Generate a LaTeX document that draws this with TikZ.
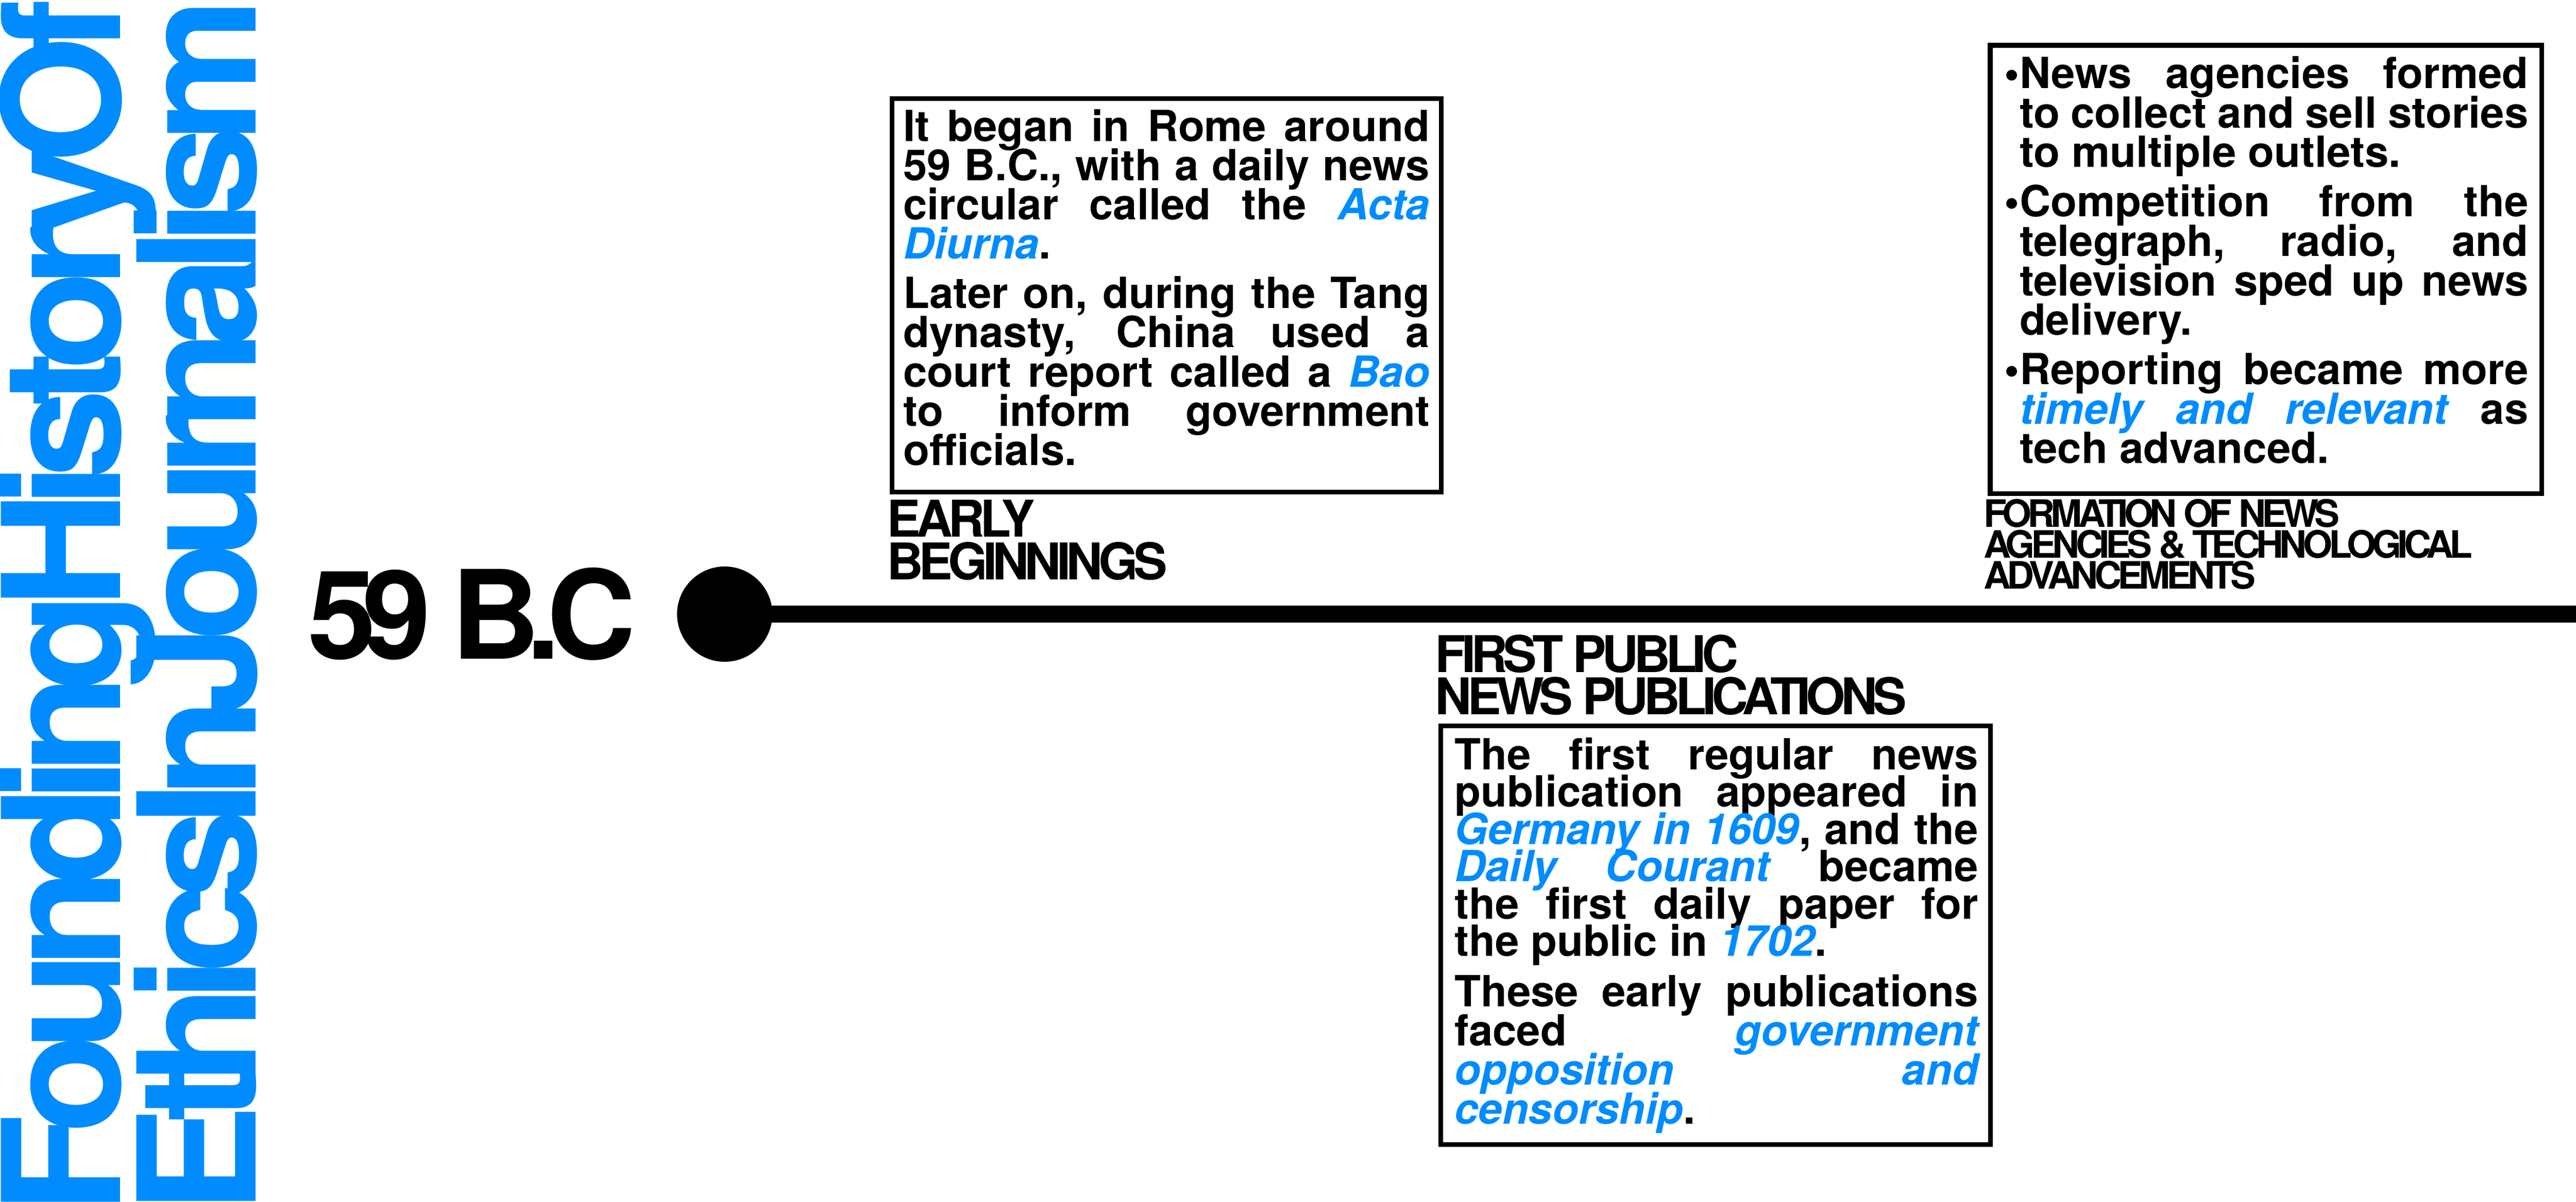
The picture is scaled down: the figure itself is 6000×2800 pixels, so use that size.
\documentclass[tikz,border=0pt]{standalone}
\usepackage{fontspec}
\setmainfont{TeX Gyre Heros}
\newfontfamily\titlefam[LetterSpace=-10.5]{TeX Gyre Heros}
\newfontfamily\datefam[LetterSpace=-11.3]{TeX Gyre Heros}
\newfontfamily\labelfam[LetterSpace=-9]{TeX Gyre Heros}
\newfontfamily\smalllabelfam[LetterSpace=-10.5]{TeX Gyre Heros}
\definecolor{tblue}{RGB}{0,140,255}
\newcommand\bl[1]{{\color{tblue}\itshape #1}}
\newcommand\tightlines{\lineskiplimit=-100pt\lineskip=0pt\relax}
\newcommand\bodyset[2]{\fontsize{10pt}{#1}\selectfont\bfseries\tightlines\parindent=0pt\parskip=#2\tolerance=10000\hbadness=10000\relax}
\newcommand\bul{\leavevmode\llap{•}}
\tikzset{
  infobox/.style={draw=black, line width=1.1pt, inner sep=0pt, fill=none},
  txt/.style={anchor=base west, inner sep=0pt, outer sep=0pt},
  titletxt/.style={txt, rotate=90, text=tblue, font=\titlefam\bfseries\fontsize{38.1pt}{38pt}\selectfont},
  timeline/.style={line width=4pt, draw=black},
}
\begin{document}
\begin{tikzpicture}[x=0.1pt, y=-0.1pt]
\useasboundingbox (0,0) rectangle (6000,2800);
% vertical title
\node[titletxt] (title1) at (280,2829) {FoundingHistoryOf};
\node[titletxt] (title2) at (596,2829) {EthicsInJournalism};
% date and timeline
\node[txt, font=\datefam\bfseries\fontsize{28.7pt}{28pt}\selectfont] (date) at (717,1535) {59 B.C};
\node[circle, fill=black, minimum size=22.2pt, inner sep=0pt] (dot) at (1688,1431) {};
\coordinate (lineend) at (6000,1431);
\draw[timeline] (dot.center) -- (lineend);
% box 1
\node[infobox, minimum width=127.9pt, minimum height=91.7pt] (box1) at (2717,688) {};
\node[txt] (text1) at (2104,329) {\parbox[t]{122.6pt}{\bodyset{9.14pt}{2.4pt}%
It began in Rome around\linebreak 59 B.C., with a daily news\linebreak circular called the \bl{Acta}\linebreak \bl{Diurna}.\par
Later on, during the Tang\linebreak dynasty, China used a\linebreak court report called a \bl{Bao}\linebreak to inform government\linebreak officials.}};
\node[txt] (label1) at (2066,1251) {\parbox[t]{100pt}{\raggedright\labelfam\bfseries\fontsize{11.8pt}{9.9pt}\selectfont\tightlines EARLY\\BEGINNINGS}};
% box 2
\node[txt] (label2) at (3343,1567) {\parbox[t]{150pt}{\raggedright\labelfam\bfseries\fontsize{11.8pt}{9.8pt}\selectfont\tightlines FIRST PUBLIC\\NEWS PUBLICATIONS}};
\node[infobox, minimum width=128.1pt, minimum height=97.5pt] (box2) at (3996,2179) {};
\node[txt] (text2) at (3388,1793) {\parbox[t]{122.0pt}{\bodyset{8.7pt}{2.7pt}%
The first regular news\linebreak publication appeared in\linebreak \bl{Germany in 1609}, and the\linebreak \bl{Daily Courant} became\linebreak the first daily paper for\linebreak the public in \bl{1702}.\par
\fontsize{10pt}{9.1pt}\selectfont
These early publications\linebreak faced \bl{government}\linebreak \bl{opposition and}\linebreak \bl{censorship}.}};
% box 3
\node[infobox, minimum width=128.5pt, minimum height=104.5pt] (box3) at (5278,628) {};
\node[txt] (text3) at (4704,206) {\parbox[t]{118.5pt}{\bodyset{9.2pt}{2.3pt}%
\bul News agencies formed\linebreak to collect and sell stories\linebreak to multiple outlets.\par
\bul Competition from the\linebreak telegraph, radio, and\linebreak television sped up news\linebreak delivery.\par
\bul Reporting became more\linebreak \bl{timely and relevant} as\linebreak tech advanced.}};
\node[txt] (label3) at (4620,1228) {\parbox[t]{150pt}{\raggedright\smalllabelfam\bfseries\fontsize{8.8pt}{7.2pt}\selectfont\tightlines FORMATION OF NEWS\\AGENCIES \& TECHNOLOGICAL\\ADVANCEMENTS}};
\end{tikzpicture}
\end{document}
